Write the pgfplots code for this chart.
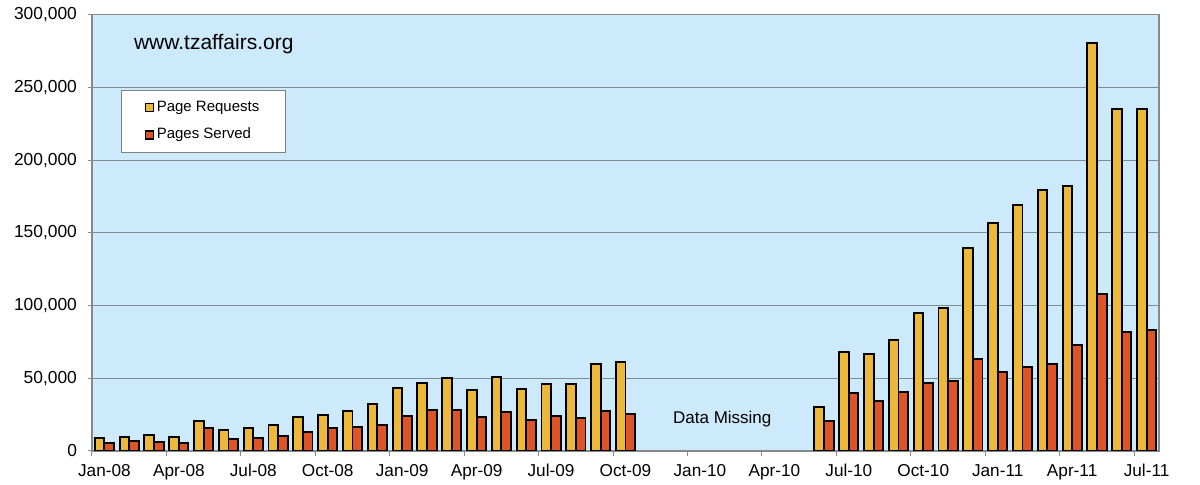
\documentclass[border=0pt]{standalone}
\usepackage{pgfplots}
\pgfplotsset{compat=1.18}
\usepackage{pgfplotstable}
\usepackage{fontspec}
\setmainfont{Liberation Sans}
\usetikzlibrary{calc}
\definecolor{bgblue}{HTML}{CCEAFB}
\definecolor{barY}{HTML}{EBB83B}
\definecolor{barR}{HTML}{DD5426}
\definecolor{gridc}{HTML}{7F8C94}
\definecolor{axc}{HTML}{888888}
\pgfplotstableread{
i req served
0 9150 5500
1 9800 6650
2 10800 6000
3 9400 5700
4 20400 15600
5 14650 8450
6 15800 9150
7 17650 10100
8 23400 12850
9 24550 15800
10 27500 16500
11 32500 17900
12 43300 24050
13 46500 28200
14 50400 28100
15 42150 23150
16 51100 27000
17 42850 21300
18 46050 24300
19 46050 22450
20 59800 27500
21 61200 25200
29 30300 20500
30 67850 39900
31 66900 34400
32 76300 40800
33 95100 46750
34 98300 48150
35 139800 63500
36 156550 54550
37 169350 57750
38 179250 59600
39 182450 72650
40 280300 108150
41 235150 81800
42 235150 83200
}\data
\begin{document}
\begin{tikzpicture}
\begin{axis}[name=ax, scale only axis, width=533.5pt, height=218.15pt,
  xmin=-0.5, xmax=42.5, ymin=0, ymax=300000,
  axis background/.style={fill=bgblue},
  ybar=0pt, bar width=4.8pt,
  every axis plot post/.append style={legend image code/.code={\draw[##1,line width=0.6pt] (0pt,-2pt) rectangle (4pt,2pt);}},
  xtick={0,3,...,42},
  xticklabels={Jan-08,Apr-08,Jul-08,Oct-08,Jan-09,Apr-09,Jul-09,Oct-09,Jan-10,Apr-10,Jul-10,Oct-10,Jan-11,Apr-11,Jul-11},
  minor xtick={-0.5,2.5,...,41.5},
  major x tick style={draw=none},
  minor x tick style={draw=axc, line width=0.5pt},
  major y tick style={draw=axc, line width=0.5pt},
  tick align=outside,
  xtick pos=bottom, ytick pos=left,
  minor tick length=2.5pt, major tick length=2pt,
  ytick={0,50000,...,300000},
  ymajorgrids, grid style={draw=gridc, line width=0.5pt},
  axis line style={draw=axc, line width=0.7pt},
  scaled y ticks=false,
  /pgf/number format/assume math mode=true,
  yticklabel style={/pgf/number format/fixed, /pgf/number format/precision=0, /pgf/number format/1000 sep={,}, font=\fontsize{8.7}{10}\selectfont, xshift=-2pt},
  xticklabel style={font=\fontsize{8.6}{10}\selectfont, yshift=-1.2pt},
  legend style={at={(0.027,0.827)}, anchor=north west, draw=gray, fill=white,
    font=\fontsize{7.5}{9}\selectfont, inner xsep=12pt, inner ysep=4pt, row sep=4.5pt,
    nodes={inner sep=1.2pt}},
  legend cell align=left,
]
\addplot[fill=barY, draw=black, line width=0.95pt] table[x=i, y=req] {\data};
\addplot[fill=barR, draw=black, line width=0.95pt] table[x=i, y=served] {\data};
\legend{Page Requests, Pages Served}
\node[anchor=west, inner sep=0pt, font=\fontsize{10.5}{12}\selectfont] at (rel axis cs:0.039,0.933) {www.tzaffairs.org};
\node[font=\fontsize{8.5}{10}\selectfont] at (axis cs:24.9,22200) {Data Missing};
\end{axis}
\pgfresetboundingbox
\path[use as bounding box] ($(ax.south west)+(-46pt,-17pt)$) rectangle ($(ax.north east)+(20.5pt,7.35pt)$);
\end{tikzpicture}
\end{document}
